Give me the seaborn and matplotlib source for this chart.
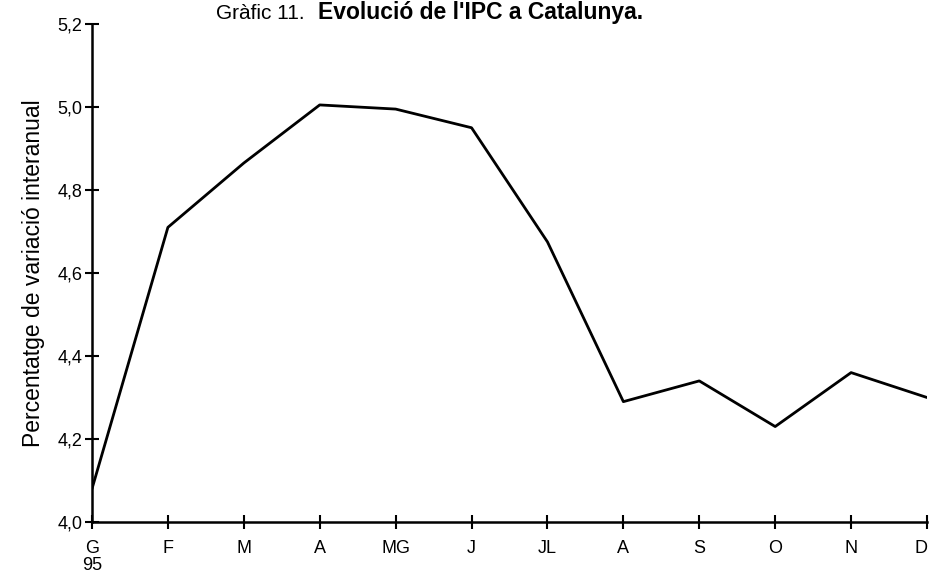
import matplotlib
matplotlib.use("Agg")
import matplotlib.pyplot as plt
import seaborn as sns
import pandas as pd

months = ["G\n95", "F", "M", "A", "MG", "J", "JL", "A", "S", "O", "N", "D"]
ipc = [4.08, 4.71, 4.865, 5.005, 4.995, 4.95, 4.675, 4.29, 4.34, 4.23, 4.36, 4.30]
yticks = [4.0, 4.2, 4.4, 4.6, 4.8, 5.0, 5.2]
ylabels = ["4,0", "4,2", "4,4", "4,6", "4,8", "5,0", "5,2"]

sns.set_theme(style="white")
plt.rcParams['font.family'] = ['Liberation Sans', 'DejaVu Sans']

df = pd.DataFrame({"pos": list(range(len(months))), "ipc": ipc})

fig = plt.figure(figsize=(9.31, 5.79), dpi=100)
ax = fig.add_axes([92/931, 57/579, (927-92)/931, (522-24)/579])
sns.lineplot(data=df, x="pos", y="ipc", ax=ax, color="black", linewidth=2.0)

ax.set_xlim(0, len(months) - 1)
ax.set_ylim(4.0, 5.2)
ax.set_xticks(range(len(months)))
ax.set_xticklabels(months, fontsize=13, linespacing=1.0, va="top")
ax.set_yticks(yticks)
ax.set_yticklabels(ylabels, fontsize=13)
ax.set_xlabel("")
ax.set_ylabel("Percentatge de variació interanual", fontsize=16.5, labelpad=9, color="black")
for s in ["top", "right"]:
    ax.spines[s].set_visible(False)
for s in ["left", "bottom"]:
    ax.spines[s].set_color("black")
    ax.spines[s].set_linewidth(1.8)
    ax.spines[s].set_clip_on(False)
ax.tick_params(axis="both", which="major", direction="inout", length=10, width=1.5,
               color="black", labelcolor="black", pad=2, bottom=True, left=True)
ax.tick_params(axis="x", pad=8)
ax.grid(False)
ax.get_xticklabels()[-1].set_ha("right")

fig.text(305/931, 1 - 19/579, "Gràfic 11.", ha="right", va="baseline", fontsize=15, color="black")
fig.text(318/931, 1 - 19/579, "Evolució de l'IPC a Catalunya.", ha="left", va="baseline",
         fontsize=16.5, fontweight="bold", color="black")

fig.savefig("out.png", dpi=100, facecolor="white")
